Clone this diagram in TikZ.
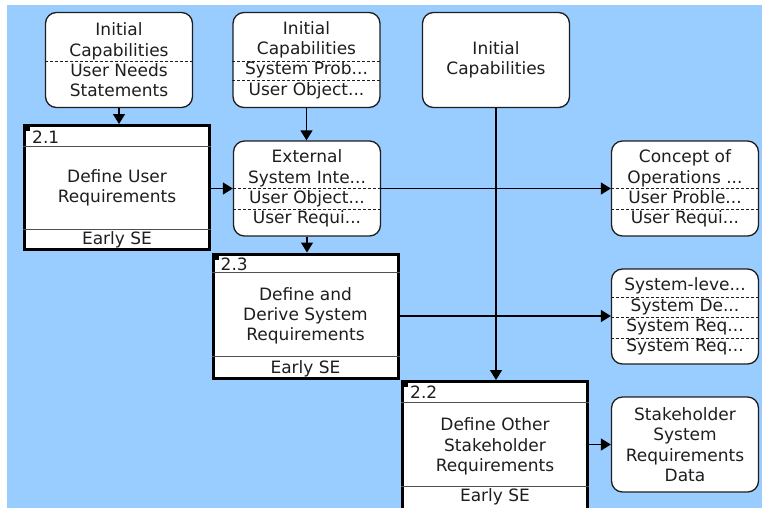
\documentclass[tikz,border=0pt]{standalone}
\usepackage{fontspec}
\setmainfont{DejaVu Sans}
\usetikzlibrary{arrows.meta,calc}
\definecolor{idefbg}{RGB}{153,204,255}
\definecolor{idefink}{RGB}{30,30,30}
\definecolor{idefrule}{RGB}{80,80,80}

\tikzset{
  item/.style={draw=idefink, fill=white, line width=1.3pt, rounded corners=11pt,
    minimum width=147pt, minimum height=95pt, inner sep=0pt, align=center,
    text=idefink, font=\fontsize{17}{20.3}\selectfont},
  func/.style={draw=black, fill=white, line width=3pt, minimum width=185pt,
    minimum height=124pt, inner sep=0pt, align=center,
    text=idefink, font=\fontsize{17}{20.3}\selectfont},
  tag/.style={inner sep=0pt, text=idefink, font=\fontsize{17}{20.3}\selectfont},
  part/.style={idefink, line width=0.8pt, dash pattern=on 3pt off 2pt},
  band/.style={idefrule, line width=1pt},
  flow/.style={line width=1.4pt, -{Triangle[length=10pt,width=12pt]}}
}

\begin{document}
\begin{tikzpicture}[x=1pt,y=-1pt]
    \useasboundingbox (0,0) rectangle (762,507);
    \fill[idefbg] (7,5) rectangle (763,508);

    % inputs along the top
    \node[item] (a) at (119,60) {Initial\\Capabilities\\User Needs\\Statements};
    \draw[part] ($(a.west)+(0,1)$) -- ($(a.east)+(0,1)$);
    \node[item] (b) at (306.5,60) {Initial\\Capabilities\\System Prob...\\User Object...};
    \draw[part] ($(b.west)+(0,1)$) -- ($(b.east)+(0,1)$);
    \draw[part] ($(b.west)+(0,20)$) -- ($(b.east)+(0,20)$);
    \node[item] (d) at (496,60) {Initial\\Capabilities};

    % 2.1
    \node[func] (f21) at (117,187.5) {Define User\\Requirements};
    \draw[band] ($(f21.north west)+(0,22)$) -- ($(f21.north east)+(0,22)$);
    \draw[band] ($(f21.south west)+(0,-22)$) -- ($(f21.south east)+(0,-22)$);
    \fill[black] ($(f21.north west)+(1,1)$) rectangle +(6,6);
    \node[tag, anchor=west] (n21) at ($(f21.north west)+(9,13)$) {2.1};
    \node[tag] (s21) at ($(f21.south)+(0,-11)$) {Early SE};

    % 2.3
    \node[func] (f23) at (305.5,316) {Define and\\Derive System\\Requirements};
    \draw[band] ($(f23.north west)+(0,20)$) -- ($(f23.north east)+(0,20)$);
    \draw[band] ($(f23.south west)+(0,-23)$) -- ($(f23.south east)+(0,-23)$);
    \fill[black] ($(f23.north west)+(1,1)$) rectangle +(6,6);
    \node[tag, anchor=west] (n23) at ($(f23.north west)+(9,12)$) {2.3};
    \node[tag] (s23) at ($(f23.south)+(0,-11)$) {Early SE};

    % 2.2 (runs off the bottom edge)
    \node[func, minimum height=130pt] (f22) at (495,446.5) {Define Other\\Stakeholder\\Requirements};
    \draw[band] ($(f22.north west)+(0,22)$) -- ($(f22.north east)+(0,22)$);
    \draw[band] ($(f22.south west)+(0,-27)$) -- ($(f22.south east)+(0,-27)$);
    \fill[black] ($(f22.north west)+(1,1)$) rectangle +(6,6);
    \node[tag, anchor=west] (n22) at ($(f22.north west)+(9,12)$) {2.2};
    \node[tag] (s22) at ($(f22.south)+(0,-16)$) {Early SE};

    % data items
    \node[item] (c) at (307,188.5) {External\\System Inte...\\User Object...\\User Requi...};
    \draw[part] ($(c.west)+(0,-0.5)$) -- ($(c.east)+(0,-0.5)$);
    \draw[part] ($(c.west)+(0,20.5)$) -- ($(c.east)+(0,20.5)$);
    \node[item] (e) at (685,188.5) {Concept of\\Operations ...\\User Proble...\\User Requi...};
    \draw[part] ($(e.west)+(0,-0.5)$) -- ($(e.east)+(0,-0.5)$);
    \draw[part] ($(e.west)+(0,20.5)$) -- ($(e.east)+(0,20.5)$);
    \node[item] (sr) at (685,316.5) {System-leve...\\System De...\\System Req...\\System Req...};
    \draw[part] ($(sr.west)+(0,-19.5)$) -- ($(sr.east)+(0,-19.5)$);
    \draw[part] ($(sr.west)+(0,0.5)$) -- ($(sr.east)+(0,0.5)$);
    \draw[part] ($(sr.west)+(0,21.5)$) -- ($(sr.east)+(0,21.5)$);
    \node[item] (g) at (685,444.5) {Stakeholder\\System\\Requirements\\Data};

    % connectors
    \draw[flow] (a.south) -- (a.south |- f21.north);
    \draw[flow] (b.south) -- (b.south |- c.north);
    \draw[flow] (f21.east |- c.west) -- (c.west);
    \draw[flow] (c.south) -- (c.south |- f23.north);
    \draw[flow] (c.east) -- (e.west);
    \draw[flow] (f23.east) -- (f23.east -| sr.west);
    \draw[flow] (d.south) -- (d.south |- f22.north);
    \draw[flow] (f22.east |- g.west) -- (g.west);
\end{tikzpicture}
\end{document}
